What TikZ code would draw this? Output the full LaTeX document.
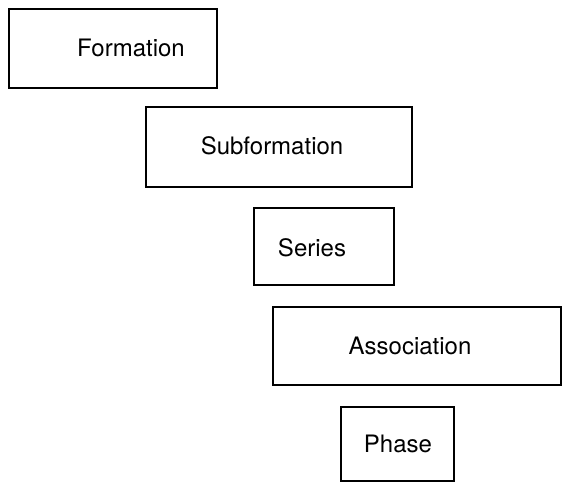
\documentclass[tikz,border=0pt]{standalone}
\usepackage{fontspec}
\setmainfont{TeX Gyre Heros}
\begin{document}
\begin{tikzpicture}[x=1pt,y=-1pt,
  levelbox/.style={draw=black,line width=1.8pt,fill=none},
  lbl/.style={font=\fontsize{24}{28}\selectfont,anchor=center,inner sep=0pt}]
\useasboundingbox (0,0) rectangle (567,485);
\draw[levelbox] (9,9) rectangle (217,88);
\node[lbl] (formation) at (131,48) {Formation};
\draw[levelbox] (146,107) rectangle (412,187);
\node[lbl] (subformation) at (272,146) {Subformation};
\draw[levelbox] (254,208) rectangle (394,285);
\node[lbl] (series) at (312,248) {Series};
\draw[levelbox] (273,307) rectangle (561,385);
\node[lbl] (association) at (410,346) {Association};
\draw[levelbox] (341,407) rectangle (454,481);
\node[lbl] (phase) at (398,444) {Phase};
\end{tikzpicture}
\end{document}
